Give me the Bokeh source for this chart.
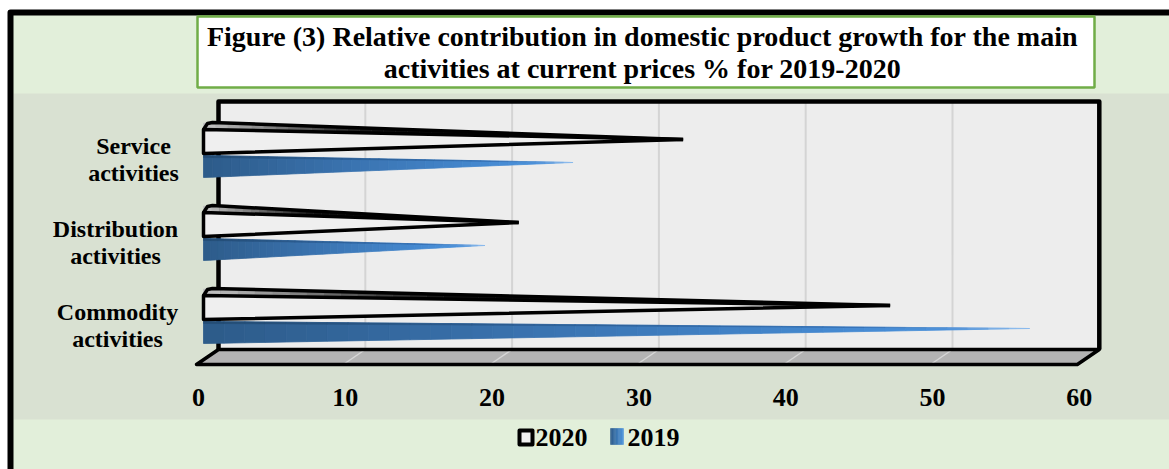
import numpy as np
from bokeh.plotting import figure
from bokeh.models import Range1d
from bokeh.core.properties import value
from bokeh.embed import file_html
from bokeh.resources import INLINE

# ---------------- data ----------------
categories = ["Commodity activities", "Distribution activities", "Service activities"]
category_lines = [["Commodity", "activities"], ["Distribution", "activities"], ["Service", "activities"]]
series_names = ["2020", "2019"]
values_2020 = [46.5, 21.2, 32.4]
values_2019 = [56.0, 18.9, 24.9]
x_ticks = [0, 10, 20, 30, 40, 50, 60]
x_tick_labels = ["0", "10", "20", "30", "40", "50", "60"]
title_lines = ["Figure (3) Relative contribution in domestic product growth for the main",
               "activities at current prices % for 2019-2020"]

# ---------------- layout ----------------
W, H = 1169, 469
X0_PX = 207.0          # pixel of value 0 (mid depth)
PPU = 14.68            # pixels per value unit
def X(px):
    return (px - X0_PX) / PPU
def dX(px):
    return px / PPU
DEPTH = dX(11)         # half depth of the 3D box (value units)
XMAX = x_ticks[-1]
FONT = "Liberation Serif"

def hex2rgb(h):
    h = h.lstrip("#")
    return [int(h[i:i + 2], 16) for i in (0, 2, 4)]

def interp(stops, t):
    for (t0, c0), (t1, c1) in zip(stops[:-1], stops[1:]):
        if t <= t1:
            f = 0 if t1 == t0 else (t - t0) / (t1 - t0)
            a, b = hex2rgb(c0), hex2rgb(c1)
            return "#%02x%02x%02x" % tuple(int(round(a[k] + (b[k] - a[k]) * f)) for k in range(3))
    return stops[-1][1]

def grad(x0, x1, top0, top1, bot0, bot1, stops, n=40):
    xs, ys, cols = [], [], []
    for k in range(n):
        ta, tb = k / n, (k + 1) / n
        xa, xb = x0 + (x1 - x0) * ta, x0 + (x1 - x0) * tb
        ya_t, yb_t = top0 + (top1 - top0) * ta, top0 + (top1 - top0) * tb
        ya_b, yb_b = bot0 + (bot1 - bot0) * ta, bot0 + (bot1 - bot0) * tb
        xs.append([xa, xb, xb, xa])
        ys.append([ya_t, yb_t, yb_b, ya_b])
        cols.append(interp(stops, (ta + tb) / 2))
    return xs, ys, cols

p = figure(width=W, height=H, x_range=Range1d(X(0), X(W)), y_range=Range1d(H, 0),
           output_backend="svg", toolbar_location=None, min_border=0,
           x_axis_location=None, y_axis_location=None,
           background_fill_color="white", border_fill_color="white",
           outline_line_color=None)
p.grid.visible = False

# background
p.quad(left=X(10), right=X(W + 5), top=12, bottom=H + 5, fill_color="#E2EFDA", line_color=None)
p.quad(left=X(13), right=X(W + 5), top=93, bottom=419, fill_color="#D9E1D2", line_color=None)
p.line(x=[X(10), X(10), X(W + 5)], y=[H + 5, 12, 12], line_color="black", line_width=6, line_join="round")

# title box
p.quad(left=X(197), right=X(1094), top=16, bottom=87, fill_color="white", line_color="#70AD47", line_width=2.5)
p.text(x=[X(642)] * 2, y=[36, 68], text=title_lines, text_align="center", text_baseline="middle",
       text_font=value(FONT), text_font_style="bold", text_font_size="28px", text_color="black")

# back wall
WALL_TOP, WALL_BOT, FLOOR_FRONT = 101, 349, 364
p.quad(left=0 + DEPTH, right=XMAX + DEPTH, top=WALL_TOP, bottom=WALL_BOT, fill_color="#EDEDED", line_color=None)
grid_vals = x_ticks[1:-1]
p.segment(x0=[v + DEPTH for v in grid_vals], y0=[WALL_TOP] * len(grid_vals),
          x1=[v + DEPTH for v in grid_vals], y1=[WALL_BOT] * len(grid_vals),
          line_color="#D4D4D4", line_width=2)
# floor
p.patch(x=[0 + DEPTH, XMAX + DEPTH, XMAX - DEPTH, 0 - DEPTH], y=[WALL_BOT, WALL_BOT, FLOOR_FRONT, FLOOR_FRONT],
        fill_color="#B3B3B3", line_color=None)
p.segment(x0=[v + DEPTH for v in grid_vals], y0=[WALL_BOT] * len(grid_vals),
          x1=[v - DEPTH for v in grid_vals], y1=[FLOOR_FRONT] * len(grid_vals),
          line_color="#D6D6D6", line_width=1.5)
p.line(x=[0 + DEPTH, XMAX + DEPTH, XMAX - DEPTH, 0 - DEPTH, 0 + DEPTH],
       y=[WALL_BOT, WALL_BOT, FLOOR_FRONT, FLOOR_FRONT, WALL_BOT],
       line_color="black", line_width=3.5, line_join="round")
p.line(x=[0 + DEPTH, 0 + DEPTH, XMAX + DEPTH, XMAX + DEPTH],
       y=[WALL_BOT, WALL_TOP, WALL_TOP, WALL_BOT],
       line_color="black", line_width=4.5, line_join="round")

# x tick labels (front edge of floor)
p.text(x=[v - DEPTH + dX(2) for v in x_ticks], y=[397] * len(x_ticks), text=x_tick_labels,
       text_align="center", text_baseline="middle", text_font=value(FONT),
       text_font_style="bold", text_font_size="26px", text_color="black")

# bars
BF = dX(-4)   # front face of cone base
BB = dX(5)    # back of cone base
BLUE = [(0, "#2D5B89"), (0.4, "#3A73B0"), (0.8, "#468BD3"), (0.93, "#4D93DC"), (1.0, "#9CC6F2")]
BLUE_TOP = [(0, "#244C74"), (0.8, "#3570B4"), (1.0, "#8DBDF0")]
DARK = [(0, "#C4C4C4"), (0.12, "#8A8A8A"), (0.35, "#111111"), (1.0, "#000000")]
label_cx = [117, 115, 133]

for i, cat in enumerate(categories):
    cy = 316 - i * 83
    # 2019 (blue cone)
    v = values_2019[i]
    xs, ys, cols = grad(BF, v, cy + 5, cy + 12, cy + 27, cy + 12, BLUE)
    p.patches(xs, ys, fill_color=cols, line_color=cols, line_width=0.8)
    xs, ys, cols = grad(BF, v, cy + 5, cy + 12, cy + 7, cy + 12, BLUE_TOP)
    p.patches(xs, ys, fill_color=cols, line_color=cols, line_width=0.5)
    # 2020 (white cone with black outline)
    v = values_2020[i]
    p.patch(x=[BF, BF, v], y=[cy - 21, cy + 3, cy - 11], fill_color="#EFEFEF", line_color=None)
    xs, ys, cols = grad(BF, v, cy - 27.5, cy - 11, cy - 21, cy - 11, DARK)
    p.patches(xs, ys, fill_color=cols, line_color=cols, line_width=0.5)
    p.line(x=[v, BF, BF, v], y=[cy - 11, cy - 21, cy + 3, cy - 11],
           line_color="black", line_width=3.5, line_join="round")
    p.line(x=[BF, BF + dX(4), BB, v], y=[cy - 21, cy - 27, cy - 28, cy - 11],
           line_color="black", line_width=3.5, line_join="round")
    # category label
    lines = category_lines[i]
    p.text(x=[X(label_cx[i])] * 2, y=[cy - 5, cy + 22], text=lines, text_align="center",
           text_baseline="middle", text_font=value(FONT), text_font_style="bold",
           text_font_size="24px", text_color="black")

# legend
p.quad(left=X(519), right=X(532), top=430, bottom=444, fill_color="#EFEFEF", line_color="black",
       line_width=4, line_join="round")
p.text(x=[X(535)], y=[437], text=[series_names[0]], text_align="left", text_baseline="middle",
       text_font=value(FONT), text_font_style="bold", text_font_size="26px", text_color="black")
xs, ys, cols = grad(X(610), X(623), 428, 428, 444, 444, [(0, "#2D5B89"), (1, "#4D93DC")], n=10)
p.patches(xs, ys, fill_color=cols, line_color=cols, line_width=0.5)
p.text(x=[X(627)], y=[437], text=[series_names[1]], text_align="left", text_baseline="middle",
       text_font=value(FONT), text_font_style="bold", text_font_size="26px", text_color="black")

open("out.html", "w").write(file_html(p, INLINE))
